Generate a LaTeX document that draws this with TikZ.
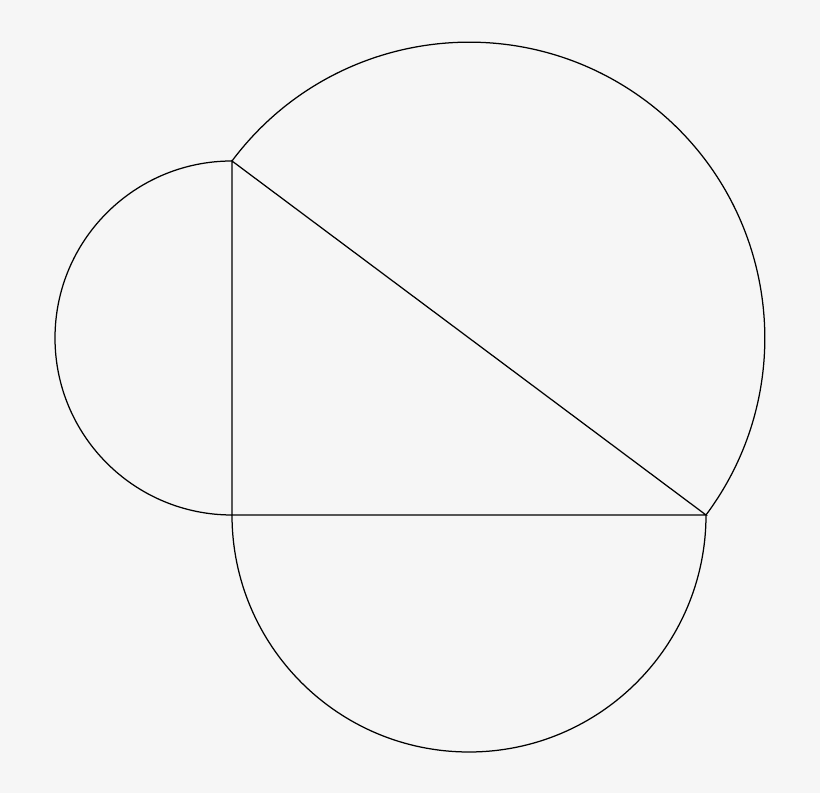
\documentclass[tikz,border=0pt]{standalone}
\usepackage{tikz}
\usetikzlibrary{calc}
\definecolor{paper}{HTML}{F6F6F6}

\begin{document}
\begin{tikzpicture}[scale=2]
			%%%%% START %%%%%
			
			\fill[paper] (0, 0) rectangle (8.2, 7.93);
			\useasboundingbox (0, 0) rectangle (8.2, 7.93);
			
			\coordinate (A) at (2.32, 6.32);
			\coordinate (B) at (2.32, 2.78);
			\coordinate (C) at (7.06, 2.78);
			
			\draw[line width=0.25mm] (A) -- (B) -- (C) -- cycle;
			
			\draw[line width=0.25mm] (A) arc (90:270:1.77);
			\draw[line width=0.25mm] (B) arc (180:360:2.37);
			\draw[line width=0.25mm] (A) arc (143.25:-36.75:2.958);
			
			%%%%% END %%%%%
\end{tikzpicture}
\end{document}
